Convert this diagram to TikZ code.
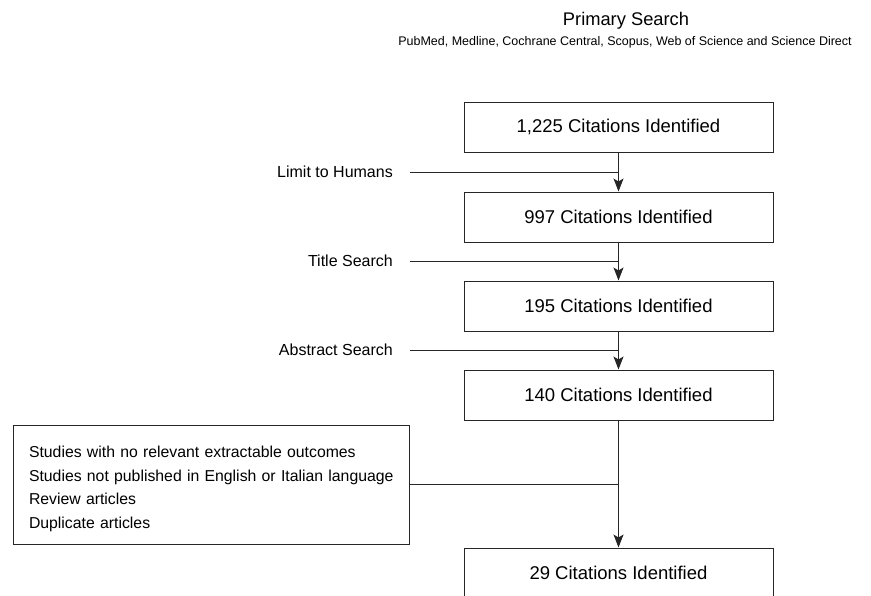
\documentclass[tikz,border=0pt]{standalone}
\usepackage{fontspec}
\setmainfont{Liberation Sans}
\usetikzlibrary{arrows.meta}

\begin{document}
\begin{tikzpicture}[x=1pt,y=-1pt,
  box/.style={draw=black!85,line width=1pt,minimum width=309pt,minimum height=50pt,inner sep=0pt,font=\fontsize{18.5}{22}\selectfont},
  side/.style={anchor=east,inner sep=0pt,font=\fontsize{16}{19}\selectfont},
  link/.style={draw=black!85,line width=1pt},
  arr/.style={link,-{Stealth[length=13pt,width=10pt,inset=3pt]}}]
\useasboundingbox (0,0) rectangle (871,595);
\node[font=\fontsize{18.3}{22}\selectfont] (title) at (626,21) {Primary Search};
\node[font=\fontsize{12.5}{15}\selectfont] (srcs) at (625,42) {PubMed, Medline, Cochrane Central, Scopus, Web of Science and Science Direct};

\node[box] (n1) at (618.5,127) {1,225 Citations Identified};
\node[box] (n2) at (618.5,217) {997 Citations Identified};
\node[box] (n3) at (618.5,306) {195 Citations Identified};
\node[box] (n4) at (618.5,395) {140 Citations Identified};
\node[box] (n5) at (618.5,573) {29 Citations Identified};

\node[side] (lim) at (393,172) {Limit to Humans};
\node[side] (tit) at (393,261) {Title Search};
\node[side] (abs) at (393,350) {Abstract Search};
\coordinate (lim-s) at (410,172);
\coordinate (tit-s) at (410,261);
\coordinate (abs-s) at (410,350);

\node[draw=black!85,line width=1pt,minimum height=119pt,text width=374pt,inner xsep=11pt,align=left,
  font=\fontsize{15.8}{23.5}\selectfont] (excl) at (211,484.5)
  {\rule{0pt}{20pt}\hspace*{5pt}Studies with no relevant extractable outcomes\\
   \hspace*{5pt}Studies not published in English or Italian language\\
   \hspace*{5pt}Review articles\\
   \hspace*{5pt}Duplicate articles};

\draw[arr] (n1) -- (n2);
\draw[arr] (n2) -- (n3);
\draw[arr] (n3) -- (n4);
\draw[arr] (n4) -- (n5);
\draw[link] (lim-s) -- (lim-s -| n1);
\draw[link] (tit-s) -- (tit-s -| n2);
\draw[link] (abs-s) -- (abs-s -| n3);
\draw[link] (excl.east) -- (excl.east -| n4);
\end{tikzpicture}
\end{document}
